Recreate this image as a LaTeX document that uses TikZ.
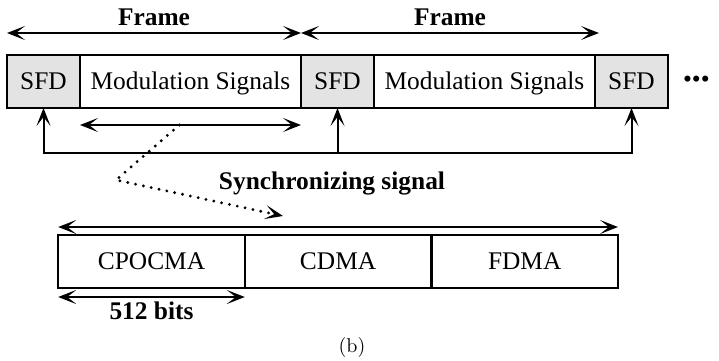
\documentclass[tikz,border=0pt]{standalone}
\usepackage{fontspec}
\newfontfamily\timesfont{Liberation Serif}
\usetikzlibrary{positioning,arrows.meta}

\begin{document}
\begin{tikzpicture}[x=0.5pt,y=-0.5pt,>={Stealth[length=9pt,width=7pt,inset=4.5pt]},
		every node/.style={font=\timesfont\fontsize{12.7}{15}\selectfont},
		cell/.style={draw,line width=1.1pt,minimum height=26.5pt,inner sep=0pt,outer sep=0pt,text height=8.4pt,text depth=0pt},
		sfd/.style={cell,fill=gray!22,minimum width=36.5pt},
		mod/.style={cell,minimum width=110.5pt},
		mac/.style={cell,minimum width=93.3pt},
		span/.style={<->,line width=1pt},
		lbl/.style={font=\timesfont\bfseries\fontsize{12.7}{15}\selectfont}]
		\useasboundingbox (0,0) rectangle (719,360);
		% frame row
		\node[sfd] (sfd1) at (43.5,81.5) {SFD};
		\node[mod] (mod1) [right=0pt of sfd1] {Modulation Signals};
		\node[sfd] (sfd2) [right=0pt of mod1] {SFD};
		\node[mod] (mod2) [right=0pt of sfd2] {Modulation Signals};
		\node[sfd] (sfd3) [right=0pt of mod2] {SFD};
		\node (dots) [right=4pt of sfd3] {\textbullet\textbullet\textbullet};
		
		\draw[span] ([yshift=11pt]sfd1.north west) -- ([yshift=11pt]sfd2.north west) node[lbl,midway,above] {Frame};
		\draw[span] ([yshift=11pt]sfd2.north west) -- ([xshift=2pt,yshift=11pt]sfd3.north west) node[lbl,midway,above] {Frame};
		\draw[span] ([yshift=-8.5pt]mod1.south west) -- ([yshift=-8.5pt]mod1.south east) coordinate[pos=0.45] (dstart);
		
		% synchronizing signal
		\coordinate (sync) at ([yshift=-22.5pt]sfd2.south);
		\draw[<->,line width=1pt] (sfd1.south) |- (sync) -| (sfd3.south);
		\draw[->,line width=1pt] (sync) -- (sfd2.south);
		\node[lbl] (synclbl) at (332,183) {Synchronizing signal};
		
		% access row
		\node[mac] (cpo) at (151.5,261.5) {CPOCMA};
		\node[mac] (cdma) [right=0pt of cpo] {CDMA};
		\node[mac] (fdma) [right=0pt of cdma] {FDMA};
		\draw[span] ([yshift=4pt]cpo.north west) -- ([yshift=4pt]fdma.north east);
		\draw[span] ([yshift=-4.5pt]cpo.south west) -- ([yshift=-4.5pt]cpo.south east) node[lbl,midway,below,inner sep=2pt] {512 bits};
		
		\coordinate (dbend) at (116,180);
		\coordinate (dend) at (283,216);
		\draw[->,line width=1.6pt,dash pattern=on 0pt off 4pt,line cap=round] (dstart) -- (dbend) -- (dend);
		
		\node[font=\normalfont\fontsize{10}{12}\selectfont] (cap) at (352,347) {(b)};
	\end{tikzpicture}
\end{document}
